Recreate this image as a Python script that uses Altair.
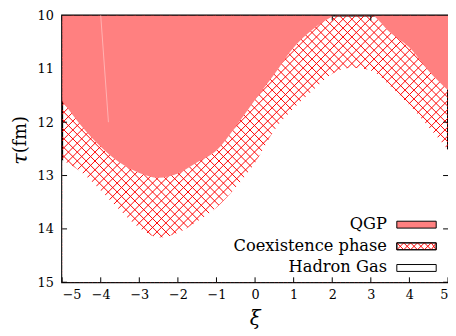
import altair as alt
import numpy as np
import pandas as pd

# ---- data ----
xi = [-5.0, -4.5, -4.0, -3.5, -3.0, -2.5, -2.0, -1.5, -1.0, -0.5, 0.0,
      0.5, 1.0, 1.5, 2.0, 2.5, 3.0, 3.5, 4.0, 4.5, 5.0]
tau_qgp = [11.60, 12.07, 12.46, 12.76, 12.95, 13.04, 12.96, 12.75, 12.53, 12.08, 11.58,
           11.10, 10.60, 10.26, 10.02, 9.88, 9.97, 10.32, 10.60, 11.04, 11.40]
tau_had = [12.71, 12.94, 13.28, 13.65, 13.98, 14.16, 14.07, 13.86, 13.60, 13.22, 12.76,
           12.15, 11.74, 11.40, 11.09, 10.98, 11.03, 11.32, 11.68, 12.09, 12.52]
x_ticks = [-5, -4, -3, -2, -1, 0, 1, 2, 3, 4, 5]
y_ticks = [10, 11, 12, 13, 14, 15]
legend_labels = ["QGP", "Coexistence phase", "Hadron Gas"]
streak_x = [-4.0, -3.8]
streak_tau = [10.0, 12.0]

W, H = 392, 271
PINK = "#ff8080"
SERIF = "DejaVu Serif"

df = pd.DataFrame({"x": xi, "tu": tau_qgp, "tl": tau_had})

xs = alt.Scale(domain=[-5, 5], nice=False, zero=False)
ys = alt.Scale(domain=[10, 15], nice=False, zero=False, reverse=True)
xaxis = alt.Axis(values=x_ticks, ticks=False, tickSize=0, domain=False, grid=False,
                 labelFont=SERIF, labelFontSize=13, labelColor="black",
                 labelPadding=7, title=None, format="d")
yaxis = alt.Axis(values=y_ticks, ticks=False, tickSize=0, domain=False, grid=False,
                 labelFont=SERIF, labelFontSize=13, labelColor="black",
                 labelPadding=9, title=None, format="d")

def X(f):
    return alt.X(f, type="quantitative", scale=xs, axis=xaxis)

def Y(f):
    return alt.Y(f, type="quantitative", scale=ys, axis=yaxis)

# crosshatch (decoration): 45-degree lines in screen space, masked by the other fills
r = (W / 10) / (H / 5)
s = 9.0 / (W / 10)
L = 10
rows = []
for a in np.arange(-13.2, 5.4, s):
    rows.append({"x": a, "x2": a + L, "y": 10.0, "y2": 10.0 + L * r})
for a in np.arange(-5.2, 13.4, s):
    rows.append({"x": a, "x2": a - L, "y": 10.0, "y2": 10.0 + L * r})
hatch_df = pd.DataFrame(rows)

hatch = alt.Chart(hatch_df).mark_rule(clip=True, color="#ff0000", strokeWidth=1).encode(
    x=X("x"), x2="x2", y=Y("y"), y2="y2")

hadron = alt.Chart(df).mark_area(clip=True, color="white", interpolate="monotone").encode(
    x=X("x"), y=Y("tl"), y2=alt.datum(15))

qgp = alt.Chart(df).mark_area(clip=True, color=PINK, opacity=1, interpolate="monotone").encode(
    x=X("x"), y=Y("tu"), y2=alt.datum(10))

streak = alt.Chart(pd.DataFrame({"x": streak_x, "t": streak_tau})).mark_line(
    color="#ffb3b3", strokeWidth=1).encode(x=X("x"), y=Y("t"))

xt = pd.DataFrame({"v": x_ticks})
yt = pd.DataFrame({"v": y_ticks})
tk = dict(color="black", strokeWidth=1)
ticks = [
    alt.Chart(xt).mark_rule(**tk).encode(x=X("v"), y=alt.value(H), y2=alt.value(H - 5)),
    alt.Chart(xt).mark_rule(**tk).encode(x=X("v"), y=alt.value(0), y2=alt.value(5)),
    alt.Chart(yt).mark_rule(**tk).encode(y=Y("v"), x=alt.value(0), x2=alt.value(5)),
    alt.Chart(yt).mark_rule(**tk).encode(y=Y("v"), x=alt.value(W), x2=alt.value(W - 5)),
]

one = pd.DataFrame({"a": [0]})

# legend (drawn by hand, bottom-right inside the frame)
sx0, sx1 = 340, 380
tops = [H - 62, H - 40, H - 18]
leg = []
fills = [PINK, "white", "white"]
for lab, t, f in zip(legend_labels, tops, fills):
    leg.append(alt.Chart(one).mark_rect(fill=f, stroke="black", strokeWidth=1).encode(
        x=alt.value(sx0), x2=alt.value(sx1), y=alt.value(t), y2=alt.value(t + 7)))
    leg.append(alt.Chart(one).mark_text(font=SERIF, fontSize=16.5, align="right",
                                        baseline="alphabetic", color="black").encode(
        x=alt.value(330), y=alt.value(t + 8), text=alt.value(lab)))
# hatch inside the coexistence swatch
sw = []
t = tops[1]
for k in range(0, 40, 7):
    sw.append({"a": sx0 + k, "b": min(sx0 + k + 7, sx1), "c": t, "d": t + 7})
    sw.append({"a": min(sx0 + k + 7, sx1), "b": sx0 + k, "c": t, "d": t + 7})
sw_df = pd.DataFrame(sw)
swatch_hatch = alt.Chart(sw_df).mark_rule(color="#ff0000", strokeWidth=1).encode(
    x=alt.X("a:Q", scale=None), x2="b:Q", y=alt.Y("c:Q", scale=None), y2="d:Q")
swatch_border = alt.Chart(one).mark_rect(fill=None, stroke="black", strokeWidth=1).encode(
    x=alt.value(sx0), x2=alt.value(sx1), y=alt.value(t), y2=alt.value(t + 7))

# axis titles
tau_t = alt.Chart(one).mark_text(font=SERIF, fontSize=21, fontStyle="italic", angle=270,
                                 align="right", baseline="middle", color="black").encode(
    x=alt.value(-42), y=alt.value(140), text=alt.value("τ"))
fm_t = alt.Chart(one).mark_text(font=SERIF, fontSize=18, angle=270,
                                align="left", baseline="middle", color="black").encode(
    x=alt.value(-42), y=alt.value(140), text=alt.value("(fm)"))
xi_t = alt.Chart(one).mark_text(font=SERIF, fontSize=20, fontStyle="italic",
                                align="center", baseline="alphabetic", color="black").encode(
    x=alt.value(W / 2), y=alt.value(H + 43), text=alt.value("ξ"))

chart = alt.layer(
    hatch, hadron, *ticks, qgp, streak, *leg, swatch_hatch, swatch_border,
    tau_t, fm_t, xi_t
).properties(
    width=W, height=H,
    autosize=alt.AutoSizeParams(type="none"),
    padding={"left": 55, "top": 5, "right": 0, "bottom": 52},
).configure_view(stroke="black", strokeWidth=2)

chart.save("out.html", embed_options={"renderer": "svg", "actions": False})
